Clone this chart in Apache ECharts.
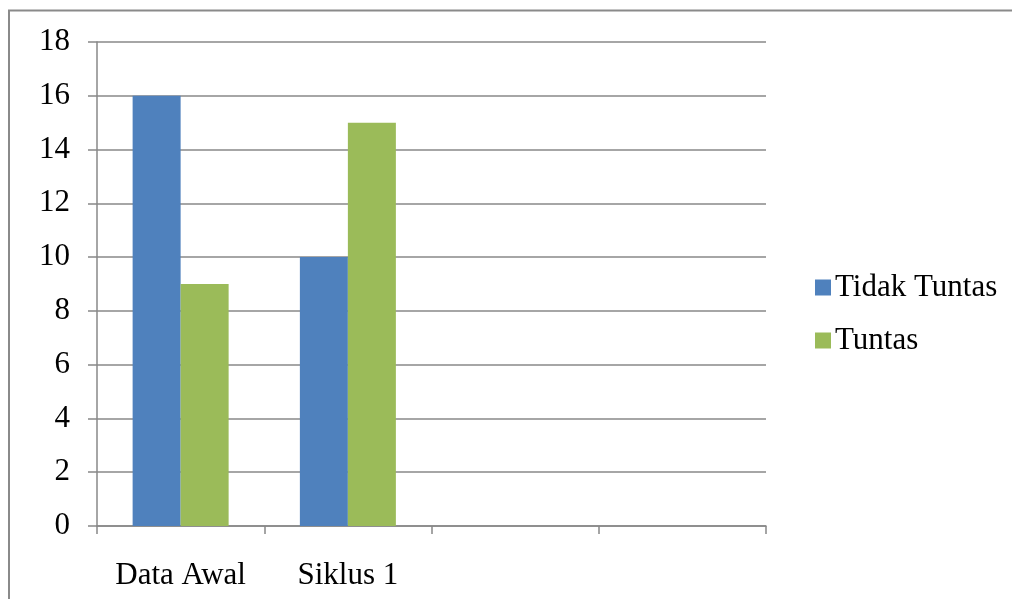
<!DOCTYPE html>
<html>
<head>
<meta charset="utf-8">
<script src="https://cdn.jsdelivr.net/npm/echarts@6/dist/echarts.min.js"></script>
<style>
html,body{margin:0;padding:0;background:#fff;}
#chart{width:1012px;height:599px;}
</style>
</head>
<body>
<div id="chart"></div>
<script>
var categories = ['Data Awal', 'Siklus 1', '', ' '];
var tidakTuntas = [16, 10, null, null];
var tuntas = [9, 15, null, null];
var seriesNames = ['Tidak Tuntas', 'Tuntas'];
var yMin = 0, yMax = 18, yStep = 2;

var FONT = '"Liberation Serif", "Times New Roman", serif';
var GRID = '#888888';
var FS = 31;

var chart = echarts.init(document.getElementById('chart'), null, {renderer: 'canvas'});
chart.setOption({
  animation: false,
  backgroundColor: '#ffffff',
  graphic: [
    {type: 'line', shape: {x1: 8, y1: 10.5, x2: 1012, y2: 10.5},
     style: {stroke: '#8a8a8a', lineWidth: 2}, silent: true},
    {type: 'line', shape: {x1: 9, y1: 10, x2: 9, y2: 599},
     style: {stroke: '#8a8a8a', lineWidth: 2}, silent: true}
  ],
  grid: {left: 97, top: 42, width: 669, bottom: 73, containLabel: false},
  legend: {
    orient: 'vertical',
    left: 810,
    top: 267,
    itemWidth: 16,
    itemHeight: 16,
    itemGap: 22,
    icon: 'rect',
    textStyle: {fontFamily: FONT, fontSize: FS, color: '#000', padding: [0, 0, 0, -1]},
    data: seriesNames
  },
  xAxis: {
    type: 'category',
    data: categories,
    boundaryGap: true,
    axisLine: {show: true, lineStyle: {color: GRID, width: 1.5}},
    axisTick: {show: true, length: 8, alignWithLabel: false, lineStyle: {color: GRID, width: 1.5}},
    axisLabel: {fontFamily: FONT, fontSize: FS, color: '#000', margin: 34, interval: 0}
  },
  yAxis: {
    type: 'value',
    min: yMin,
    max: yMax,
    interval: yStep,
    axisLine: {show: true, lineStyle: {color: GRID, width: 1.5}},
    axisTick: {show: true, length: 9, lineStyle: {color: GRID, width: 1.5}},
    splitLine: {show: true, lineStyle: {color: GRID, width: 1.5}},
    axisLabel: {fontFamily: FONT, fontSize: FS, color: '#000', margin: 27}
  },
  series: [
    {name: seriesNames[0], type: 'bar', data: tidakTuntas, barWidth: 48, barGap: '0%',
     itemStyle: {color: '#4F81BD'}},
    {name: seriesNames[1], type: 'bar', data: tuntas, barWidth: 48, barGap: '0%',
     itemStyle: {color: '#9BBB59'}}
  ]
});
</script>
</body>
</html>
